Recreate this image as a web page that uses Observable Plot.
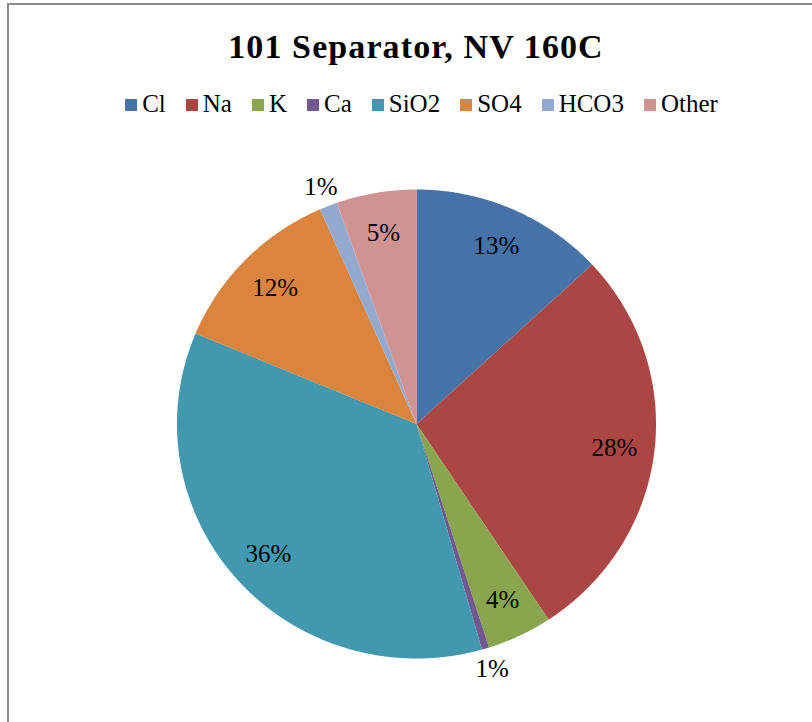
<!DOCTYPE html>
<html>
<head>
<meta charset="utf-8">
<script src="https://cdn.jsdelivr.net/npm/d3@7"></script>
<script src="https://cdn.jsdelivr.net/npm/@observablehq/plot@0.6"></script>
<style>
  html, body { margin: 0; padding: 0; background: #fff; overflow: hidden; width: 812px; height: 722px; }
  #frame { position: absolute; left: 7px; top: 3px; width: 900px; height: 800px; border: 2px solid #8c8c8c; box-sizing: border-box; }
  #title { position: absolute; left: 0; width: 832px; top: 30px; text-align: center; font-family: "Liberation Serif", serif; font-weight: bold; font-size: 34px; line-height: 34px; letter-spacing: 1.1px; color: #000; }
  #legend { position: absolute; left: 0; width: 843px; top: 91px; display: flex; justify-content: center; gap: 20px; font-family: "Liberation Serif", serif; font-size: 25px; line-height: 26px; color: #000; }
  .item { display: flex; align-items: center; }
  .sw { width: 12px; height: 12px; margin-right: 5px; margin-top: 1px; }
  #chart { position: absolute; left: 0; top: 150px; }
</style>
</head>
<body>
<div id="frame"></div>
<div id="title">101 Separator, NV 160C</div>
<div id="legend"></div>
<div id="chart"></div>
<script>
const categories = ["Cl", "Na", "K", "Ca", "SiO2", "SO4", "HCO3", "Other"];
const shares = [13.1, 27.6, 4.4, 0.5, 35.7, 12.1, 1.2, 5.4];
const labels = ["13%", "28%", "4%", "1%", "36%", "12%", "1%", "5%"];
const colors = ["#4572A7", "#AA4643", "#89A54E", "#71588F", "#4198AF", "#DB843D", "#93A9CF", "#D19392"];

// legend
const legend = document.getElementById("legend");
categories.forEach((c, i) => {
  const it = document.createElement("div");
  it.className = "item";
  const sw = document.createElement("div");
  sw.className = "sw";
  sw.style.background = colors[i];
  const tx = document.createElement("span");
  tx.textContent = c;
  it.appendChild(sw); it.appendChild(tx);
  legend.appendChild(it);
});

// pie geometry
const arcs = d3.pie().sort(null).value(d => d)(shares);
const arcPts = [];
arcs.forEach((a, i) => {
  const n = Math.max(2, Math.ceil((a.endAngle - a.startAngle) / 0.005));
  for (let k = 0; k <= n; k++) {
    const t = a.startAngle + (a.endAngle - a.startAngle) * k / n;
    arcPts.push({cat: categories[i], x: Math.sin(t), y: Math.cos(t)});
  }
});
const slices = arcs.map((a, i) => {
  const mid = (a.startAngle + a.endAngle) / 2;
  const r = shares[i] < 2 ? 1.09 : 0.83;
  return {cat: categories[i], label: labels[i], x: r * Math.sin(mid), y: r * Math.cos(mid)};
});

const chart = Plot.plot({
  width: 812,
  height: 560,
  margin: 0,
  x: {domain: [-1, 1], range: [177, 656], axis: null},
  y: {domain: [-1, 1], range: [508.5, 39.5], axis: null},
  color: {domain: categories, range: colors},
  style: {background: "transparent", overflow: "visible"},
  marks: [
    Plot.area(arcPts, {x1: d => 0, y1: d => 0, x2: "x", y2: "y", fill: "cat", z: "cat", curve: "linear"}),
    Plot.text(slices, {x: "x", y: "y", text: "label", fontSize: 25, fontFamily: "Liberation Serif, serif", fill: "#000"})
  ]
});
document.getElementById("chart").appendChild(chart);
</script>
</body>
</html>
